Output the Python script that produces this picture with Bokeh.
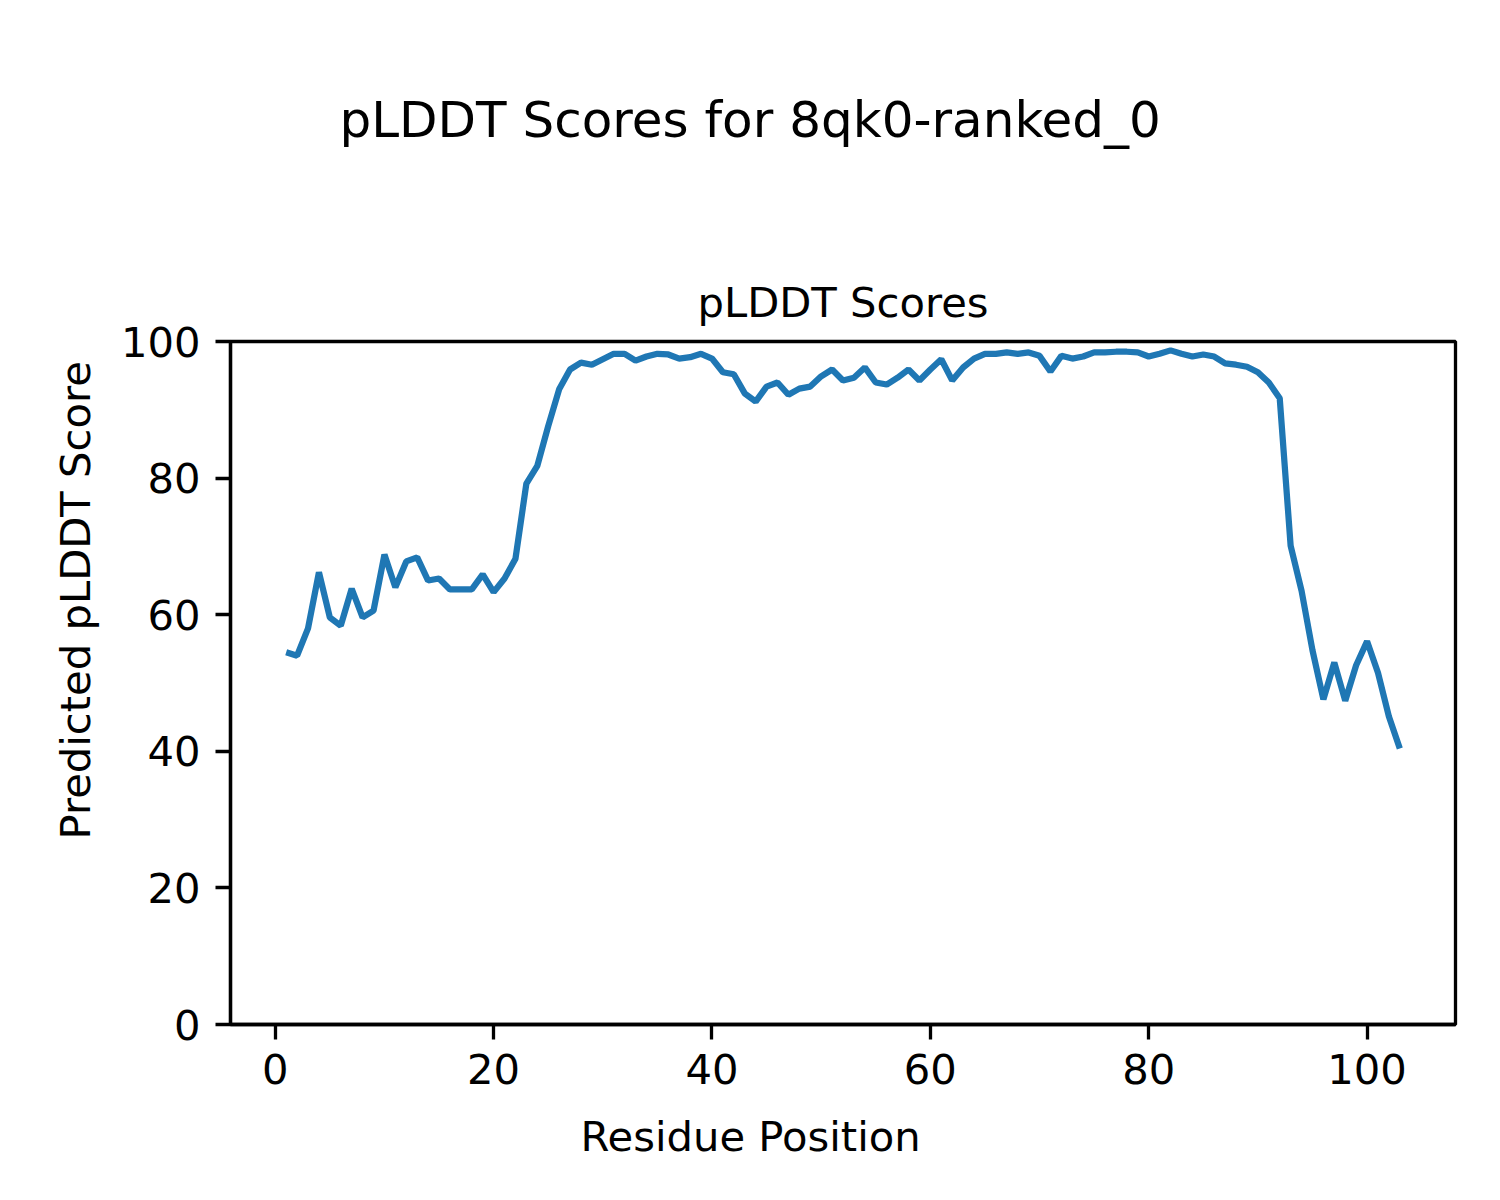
from bokeh.plotting import figure
from bokeh.models import Range1d, FixedTicker, Title, LinearAxis, CustomJSTickFormatter
from bokeh.embed import file_html
from bokeh.resources import INLINE

# ---- data ----
residue = list(range(1, 104))
plddt = [
    54.5, 54.0, 58.0, 66.2, 59.6, 58.4, 63.8, 59.6, 60.6, 68.8,
    64.0, 67.8, 68.4, 65.0, 65.3, 63.7, 63.7, 63.7, 65.9, 63.3,
    65.3, 68.2, 79.2, 81.8, 87.6, 93.0, 95.9, 96.9, 96.6, 97.4,
    98.2, 98.2, 97.2, 97.8, 98.2, 98.1, 97.5, 97.7, 98.2, 97.5,
    95.5, 95.2, 92.4, 91.2, 93.4, 94.0, 92.2, 93.1, 93.4, 94.9,
    95.9, 94.3, 94.7, 96.2, 94.0, 93.7, 94.7, 95.9, 94.3, 95.9,
    97.4, 94.3, 96.2, 97.5, 98.2, 98.2, 98.4, 98.2, 98.4, 97.9,
    95.6, 97.9, 97.5, 97.8, 98.4, 98.4, 98.5, 98.5, 98.4, 97.8,
    98.2, 98.7, 98.2, 97.8, 98.1, 97.8, 96.8, 96.6, 96.3, 95.5,
    94.0, 91.7, 70.1, 63.5, 54.8, 47.6, 53.0, 47.4, 52.6, 56.1,
    51.5, 45.1, 40.4,
]
tick_values = [0, 20, 40, 60, 80, 100]
suptitle = "pLDDT Scores for 8qk0-ranked_0"
axes_title = "pLDDT Scores"
x_label = "Residue Position"
y_label = "Predicted pLDDT Score"

FONT = "DejaVu Sans"
FS = "41.7px"

span = max(residue) - min(residue)
x0 = min(residue) - 0.05 * span
x1 = max(residue) + 0.05 * span

p = figure(
    width=1484, height=1184,
    output_backend="svg", toolbar_location=None,
    x_range=Range1d(x0, x1), y_range=Range1d(0, 100),
    min_border_left=230, min_border_right=29,
    min_border_top=341, min_border_bottom=160,
)
p.background_fill_color = "white"
p.border_fill_color = "white"
p.grid.visible = False
p.outline_line_color = "black"
p.outline_line_width = 3.3

# outermost title: the figure-level title
p.title.text = suptitle
p.title.text_font = FONT
p.title.text_font_size = "50px"
p.title.text_font_style = "normal"
p.title.text_color = "black"
p.title.align = "left"
p.title.offset = 109
p.title.standoff = 0

for ax in (p.xaxis[0], p.yaxis[0]):
    ax.ticker = FixedTicker(ticks=tick_values)
    ax.major_label_text_font = FONT
    ax.major_label_text_font_size = FS
    ax.major_label_text_color = "black"
    ax.major_tick_out = 15
    ax.major_tick_in = 0
    ax.minor_tick_out = 0
    ax.minor_tick_in = 0
    ax.major_tick_line_width = 3.3
    ax.major_tick_line_color = "black"
    ax.axis_line_width = 3.3
    ax.axis_line_color = "black"
p.xaxis[0].major_label_standoff = 14
p.yaxis[0].major_label_standoff = 15

p.line(residue, plddt, line_color="#1f77b4", line_width=6.25)

# axes title, nearest to the frame (first panel above)
p.add_layout(Title(text=axes_title, text_font=FONT, text_font_size=FS,
                   text_font_style="normal", text_color="black",
                   align="center", standoff=30), "above")

# invisible spacer between the axes title and the figure title
spacer = LinearAxis(ticker=FixedTicker(ticks=[x1 - 1]),
                    formatter=CustomJSTickFormatter(code="return ''"),
                    axis_line_color=None,
                    major_tick_line_color="white", major_tick_line_width=1,
                    minor_tick_line_color=None,
                    major_tick_out=112, major_tick_in=0, minor_tick_out=0,
                    minor_tick_in=0, major_label_standoff=0,
                    major_label_text_font_size="1px")
p.add_layout(spacer, "above")

# figure-level axis labels (centred on the figure, not on the frame)
p.add_layout(Title(text=x_label, text_font=FONT, text_font_size=FS,
                   text_font_style="normal", text_color="black",
                   align="left", offset=350, standoff=47), "below")
p.add_layout(Title(text=y_label, text_font=FONT, text_font_size=FS,
                   text_font_style="normal", text_color="black",
                   align="left", offset=185, standoff=35), "left")

open("out.html", "w").write(file_html(p, INLINE))
